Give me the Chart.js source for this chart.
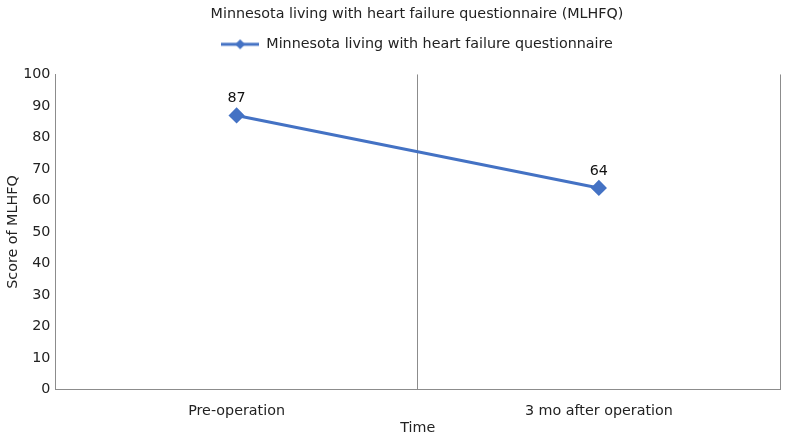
<!DOCTYPE html>
<html>
<head>
<meta charset="utf-8">
<script src="https://cdn.jsdelivr.net/npm/chart.js@4/dist/chart.umd.min.js"></script>
<style>
  html, body { margin: 0; padding: 0; background: #fff; }
  #wrap { width: 795px; height: 446px; }
</style>
</head>
<body>
<div id="wrap"><canvas id="myChart" width="795" height="446"></canvas></div>
<script>
const categories = ['Pre-operation', '3 mo after operation'];
const scores = [87, 64];
const seriesName = 'Minnesota living with heart failure questionnaire';
const chartTitle = 'Minnesota living with heart failure questionnaire (MLHFQ)';
const yTicks = { min: 0, max: 100, step: 10 };

const blue = '#4472C4';
const fontFamily = '"DejaVu Sans", Verdana, sans-serif';
const fontSize = 14.3;
Chart.defaults.font.family = fontFamily;
Chart.defaults.font.size = fontSize;
Chart.defaults.color = '#222';

// legend marker: short line with a diamond in the middle
const legendMark = document.createElement('canvas');
legendMark.width = 38;
legendMark.height = 12;
(function () {
  const c = legendMark.getContext('2d');
  c.strokeStyle = blue;
  c.lineWidth = 3;
  c.beginPath();
  c.moveTo(0, 6);
  c.lineTo(38, 6);
  c.stroke();
  c.fillStyle = blue;
  c.beginPath();
  c.moveTo(19, 1);
  c.lineTo(24, 6);
  c.lineTo(19, 11);
  c.lineTo(14, 6);
  c.closePath();
  c.fill();
})();

// extra room under the legend, and title/legend centred a bit right like the original
const headerTweak = {
  id: 'headerTweak',
  beforeInit(chart) {
    const legend = chart.legend;
    const fit = legend.fit;
    legend.fit = function () {
      fit.call(this);
      this.height += 13;
    };
    [chart.titleBlock, legend].forEach((box) => {
      if (!box) return;
      const draw = box.draw;
      box.draw = function () {
        const c = this.ctx;
        c.save();
        c.translate(27, 0);
        draw.apply(this, arguments);
        c.restore();
      };
    });
  },
};

const valueLabels = {
  id: 'valueLabels',
  afterDatasetsDraw(chart) {
    const ctx = chart.ctx;
    ctx.save();
    ctx.font = fontSize + 'px ' + fontFamily;
    ctx.fillStyle = '#111';
    ctx.textAlign = 'center';
    ctx.textBaseline = 'bottom';
    chart.data.datasets.forEach((ds, i) => {
      chart.getDatasetMeta(i).data.forEach((pt, j) => {
        ctx.fillText(String(ds.data[j]), pt.x, pt.y - 10);
      });
    });
    ctx.restore();
  },
};

const config = {
  type: 'line',
  data: {
    labels: categories,
    datasets: [
      {
        label: seriesName,
        data: scores,
        borderColor: blue,
        backgroundColor: blue,
        borderWidth: 3,
        tension: 0,
        pointStyle: 'rectRot',
        pointRadius: 6,
        pointHoverRadius: 6,
        pointBackgroundColor: blue,
        pointBorderColor: blue,
      },
    ],
  },
  options: {
    responsive: false,
    animation: false,
    layout: {
      padding: { top: 0, right: 15, bottom: 9, left: 0 },
    },
    plugins: {
      title: {
        display: true,
        text: chartTitle,
        color: '#222',
        font: { size: fontSize, weight: 'normal' },
        padding: { top: 6, bottom: -9 },
      },
      legend: {
        display: true,
        labels: {
          usePointStyle: true,
          pointStyle: legendMark,
          pointStyleWidth: 38,
          boxHeight: 12,
          color: '#222',
          font: { size: fontSize },
          padding: 23,
        },
      },
      tooltip: { enabled: false },
    },
    scales: {
      x: {
        offset: true,
        grid: {
          display: true,
          offset: true,
          color: '#8c8c8c',
          lineWidth: 1,
          drawTicks: false,
        },
        border: { display: true, color: '#8c8c8c', width: 1 },
        ticks: { padding: 13, color: '#222', font: { size: fontSize } },
        title: {
          display: true,
          text: 'Time',
          color: '#222',
          font: { size: fontSize },
          padding: { top: -13, bottom: 0 },
        },
      },
      y: {
        min: yTicks.min,
        max: yTicks.max,
        grid: { display: false, drawTicks: false },
        border: { display: true, color: '#8c8c8c', width: 1 },
        ticks: {
          stepSize: yTicks.step,
          padding: 5,
          color: '#222',
          font: { size: fontSize },
        },
        title: {
          display: true,
          text: 'Score of MLHFQ',
          color: '#222',
          font: { size: fontSize },
          padding: { top: 5, bottom: -4 },
        },
      },
    },
  },
  plugins: [headerTweak, valueLabels],
};

const ctx = document.getElementById('myChart').getContext('2d');
new Chart(ctx, config);
</script>
</body>
</html>
